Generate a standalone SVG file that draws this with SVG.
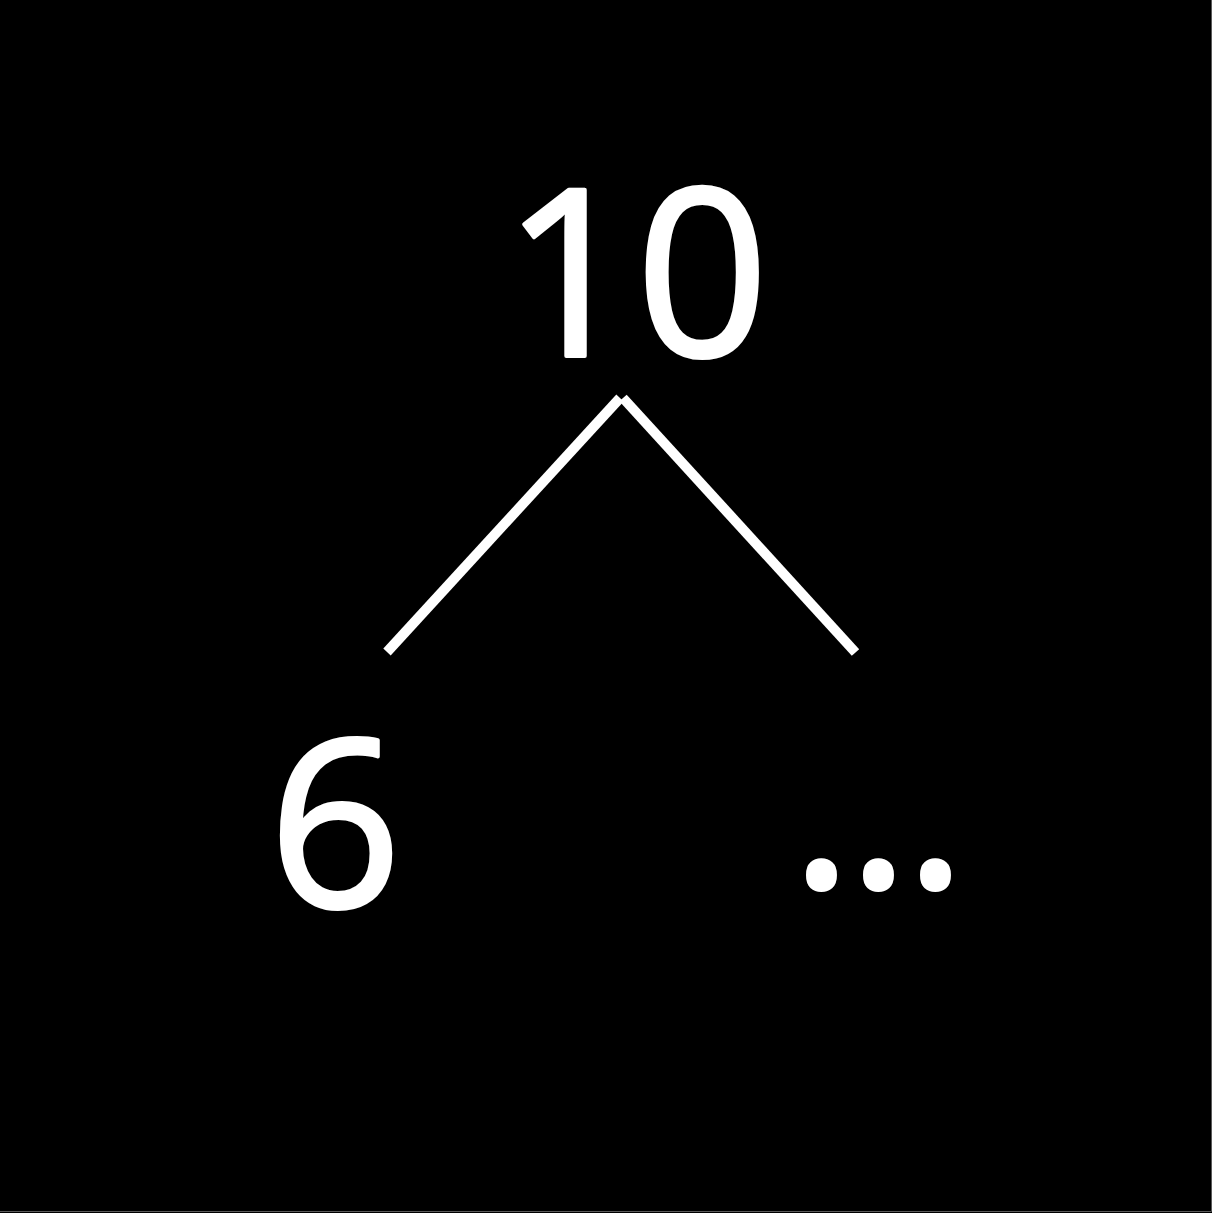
<svg xmlns="http://www.w3.org/2000/svg" width="1212" height="1213" viewBox="0 0 1212 1213">
<style>
.lbl{font-family:"Open Sans","Noto Sans",sans-serif;font-size:232px;fill:#fff;stroke:#fff;stroke-width:4;stroke-linejoin:round}
.edge{stroke:#fff;stroke-width:10;fill:none}
</style>
<rect x="0" y="0" width="1212" height="1213" fill="#000"/>
<path d="M1211.5 0V1211.5H0" stroke="#5a5a5a" stroke-width="1" fill="none"/>
<g id="connectors">
<line class="edge" x1="620" y1="398" x2="387" y2="652"/>
<line class="edge" x1="623" y1="398" x2="855.5" y2="652.5"/>
</g>
<g id="node-10"><text class="lbl" x="636" y="356" text-anchor="middle">10</text></g>
<g id="node-6"><text class="lbl" x="335" y="907" text-anchor="middle">6</text></g>
<g id="node-more"><text class="lbl" x="791" y="887" letter-spacing="-4">...</text></g>
</svg>
